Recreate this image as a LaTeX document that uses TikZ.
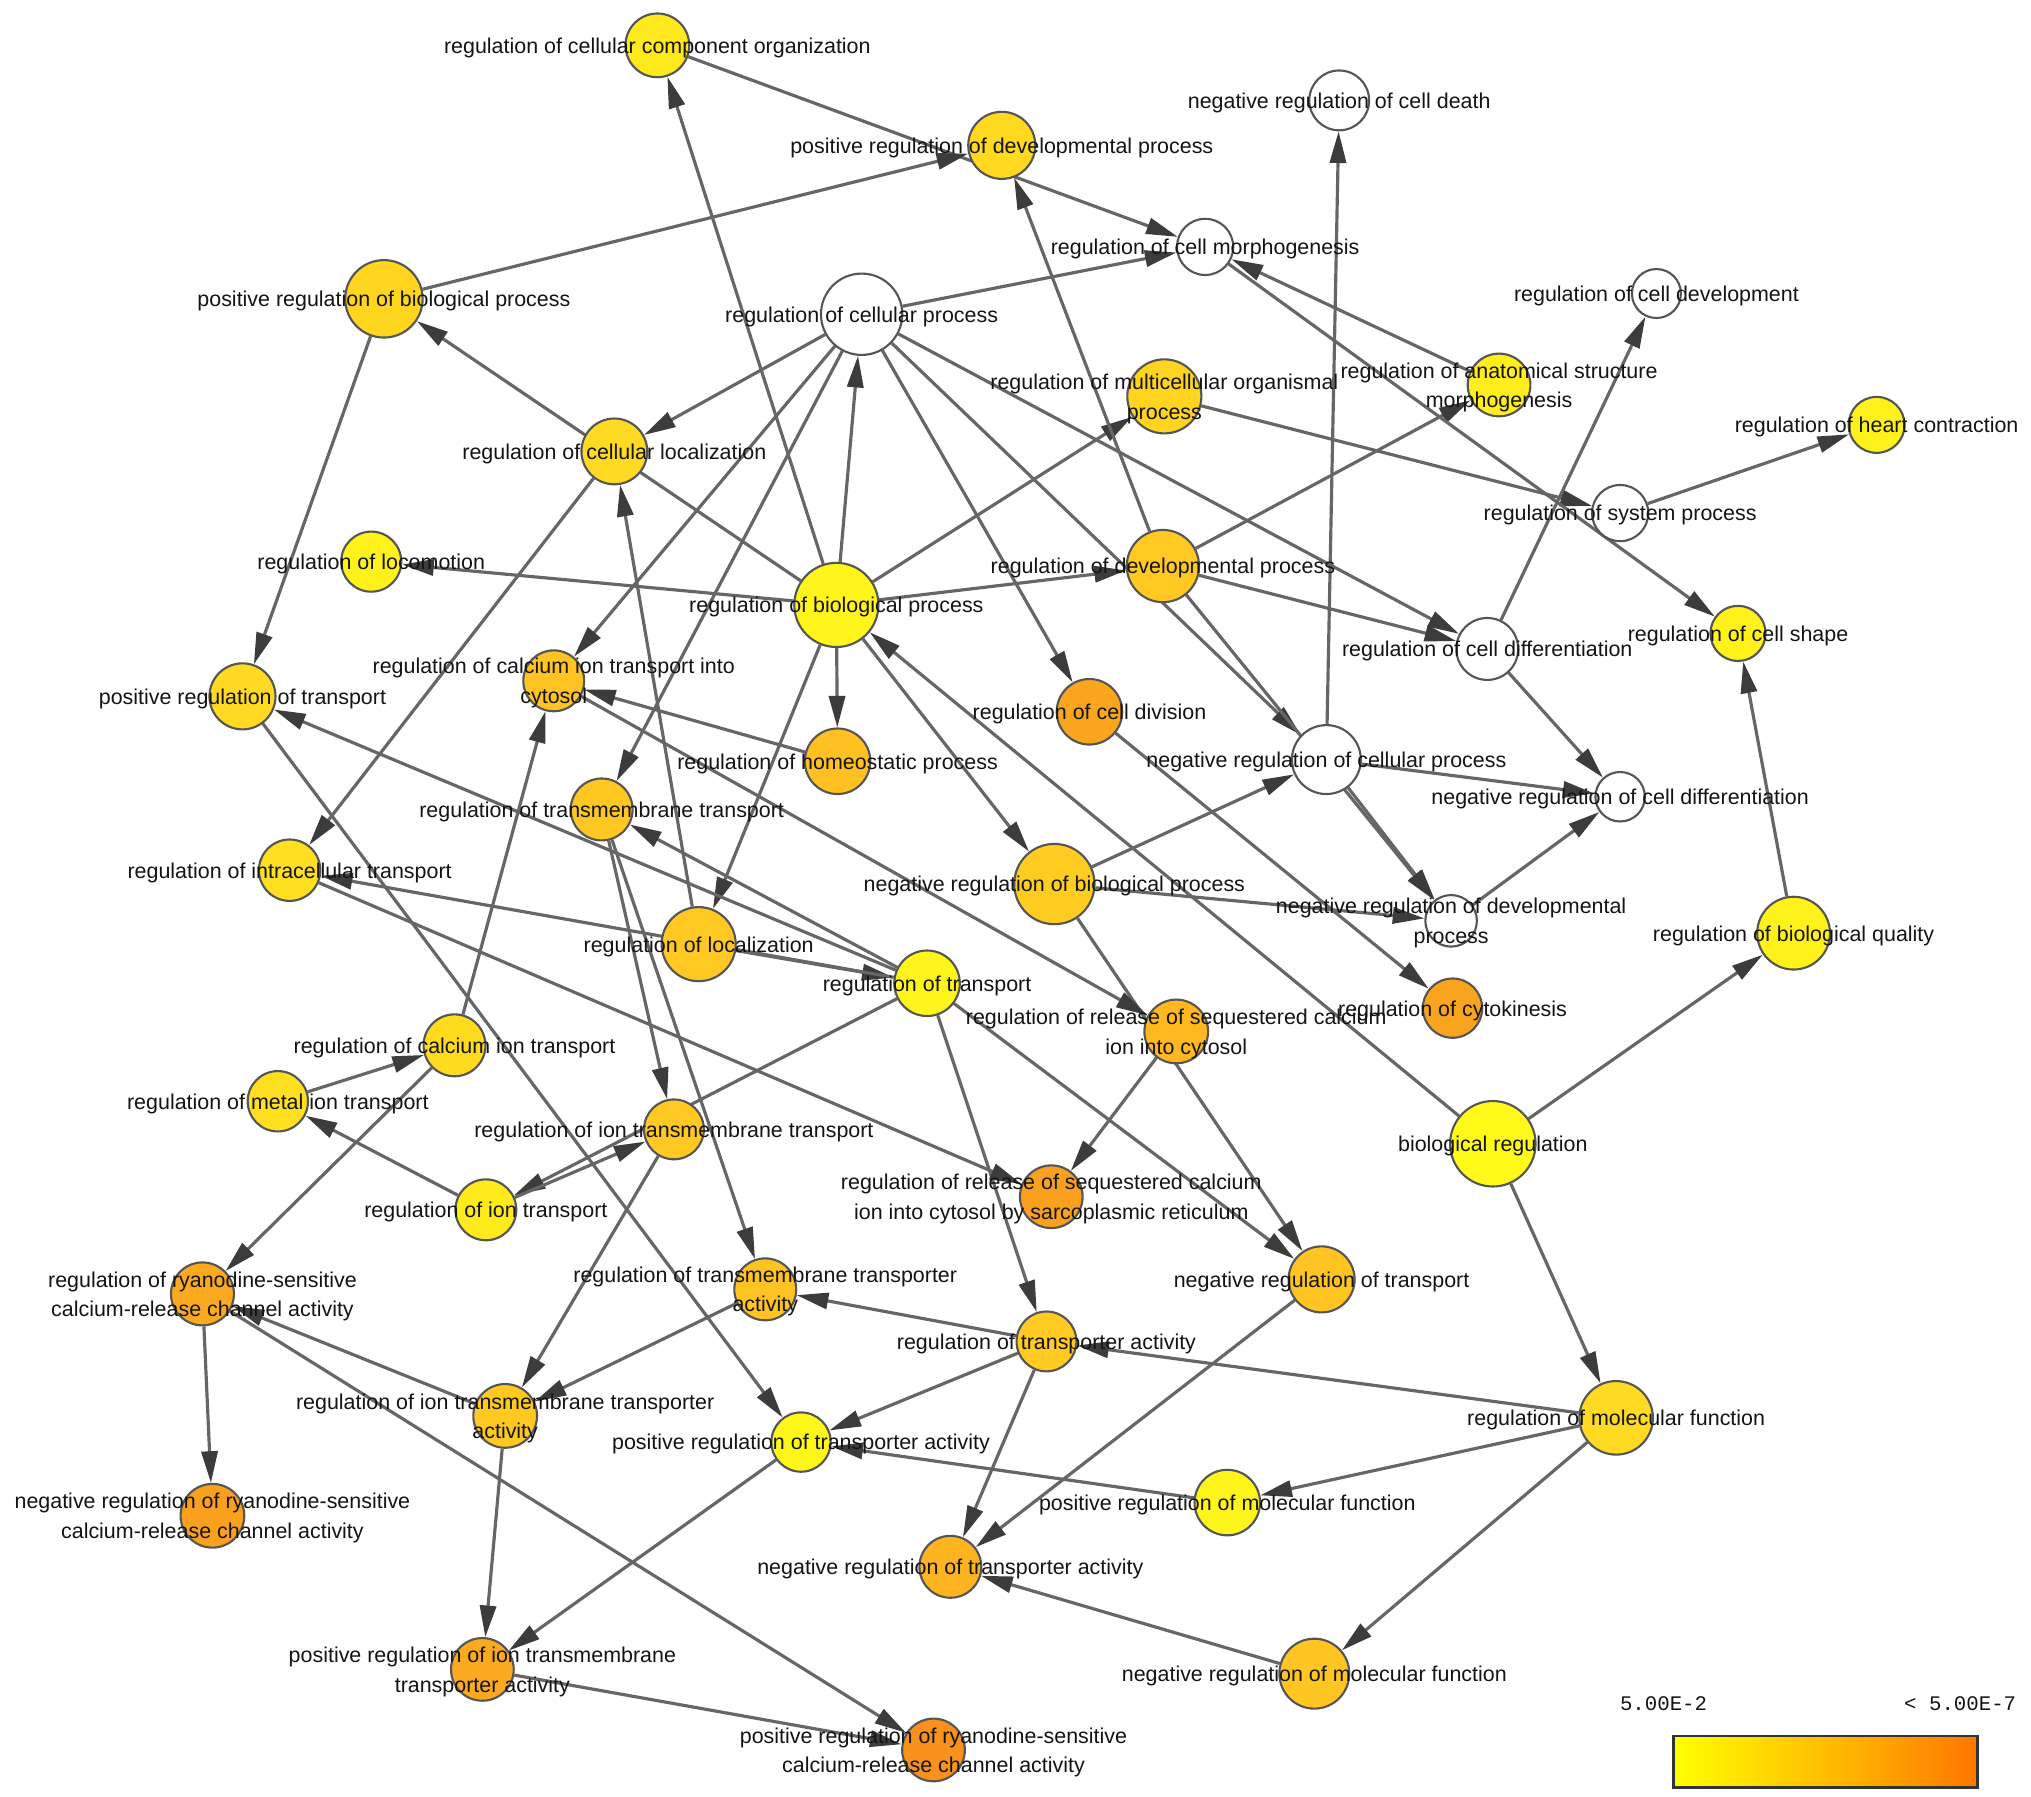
\documentclass[tikz,border=0pt]{standalone}
\usepackage{fontspec}
\setmainfont{Liberation Sans}
\newfontfamily\legendfont{Liberation Mono}
\usetikzlibrary{arrows.meta}
\pgfdeclarelayer{edgelayer}
\pgfdeclarelayer{fore}
\pgfsetlayers{edgelayer,main,fore}
\definecolor{edgec}{HTML}{666666}
\definecolor{tipc}{HTML}{3C3C3C}
\definecolor{borderc}{HTML}{555555}
\definecolor{textc}{HTML}{141414}
\def\uu{0.012953cm}
\tikzset{
  gocirc/.style={circle, draw=borderc, line width=0.6pt, inner sep=0pt},
  golabel/.style={font=\fontsize{6.1}{8.4}\selectfont, text=textc, align=center, inner sep=0pt},
  edge/.style={draw=edgec, line width=0.9pt, -{Triangle[length=9pt,width=4.6pt,color=tipc]}}
}
\newcommand\gn[6]{%
  \definecolor{c#1}{HTML}{#5}%
  \node[gocirc, fill=c#1, minimum size={2*#4*\uu}] (#1) at (#2,#3) {};
  \begin{pgfonlayer}{fore}\node[golabel] at (#2,#3+1.8) {#6};\end{pgfonlayer}
}
\begin{document}
\begin{tikzpicture}[x=0.012953cm, y=-0.012953cm]
\useasboundingbox (0,0) rectangle (1568,1387);
\begin{pgfonlayer}{edgelayer}
\fill[white] (0,0) rectangle (1568,1387);
\end{pgfonlayer}

\gn{cco}{507.5}{35.0}{24.6}{FFE81C}{regulation of cellular component organization}
\gn{ncd}{1033.9}{77.5}{23.1}{FFFFFF}{negative regulation of cell death}
\gn{pdev}{773.4}{112.2}{25.9}{FFD820}{positive regulation of developmental process}
\gn{cmorph}{930.4}{190.6}{21.7}{FFFFFF}{regulation of cell morphogenesis}
\gn{pbio}{296.4}{230.7}{29.9}{FFD520}{positive regulation of biological process}
\gn{cell}{665.2}{242.6}{31.4}{FFFFFF}{regulation of cellular process}
\gn{cdev}{1278.8}{226.6}{18.9}{FFFFFF}{regulation of cell development}
\gn{multi}{898.9}{306.0}{28.6}{FFD420}{regulation of multicellular organismal\\process}
\gn{anat}{1157.3}{297.2}{24.2}{FFEE1C}{regulation of anatomical structure\\morphogenesis}
\gn{heart}{1448.8}{328.0}{21.6}{FFF21A}{regulation of heart contraction}
\gn{cloc}{474.3}{348.5}{25.4}{FFDA22}{regulation of cellular localization}
\gn{sys}{1250.8}{396.1}{21.7}{FFFFFF}{regulation of system process}
\gn{loco}{286.6}{433.6}{23.2}{FFF21A}{regulation of locomotion}
\gn{dev}{897.8}{437.0}{27.9}{FFC823}{regulation of developmental process}
\gn{bio}{645.7}{467.0}{32.5}{FFF51A}{regulation of biological process}
\gn{cdiff}{1148.2}{501.0}{23.9}{FFFFFF}{regulation of cell differentiation}
\gn{shape}{1341.8}{489.0}{21.3}{FFF21A}{regulation of cell shape}
\gn{ptr}{187.2}{537.6}{25.5}{FFD922}{positive regulation of transport}
\gn{cacyt}{427.5}{525.6}{23.5}{FFC422}{regulation of calcium ion transport into\\cytosol}
\gn{div}{841.1}{549.5}{25.3}{F9A61E}{regulation of cell division}
\gn{homeo}{646.6}{587.7}{25.3}{FFC121}{regulation of homeostatic process}
\gn{ncell}{1024.0}{586.4}{26.6}{FFFFFF}{negative regulation of cellular process}
\gn{ncdiff}{1250.8}{615.1}{19.1}{FFFFFF}{negative regulation of cell differentiation}
\gn{tmt}{464.5}{624.9}{23.9}{FFC722}{regulation of transmembrane transport}
\gn{intra}{223.6}{671.8}{23.7}{FFE020}{regulation of intracellular transport}
\gn{nbio}{814.0}{682.5}{31.0}{FFCD22}{negative regulation of biological process}
\gn{ndev}{1120.3}{710.9}{19.9}{FFFFFF}{negative regulation of developmental\\process}
\gn{qual}{1384.7}{720.4}{28.1}{FFF21A}{regulation of biological quality}
\gn{loc}{539.4}{728.9}{28.6}{FFC822}{regulation of localization}
\gn{tr}{715.7}{759.1}{25.3}{FFF51A}{regulation of transport}
\gn{rel}{908.1}{796.3}{24.6}{FFB820}{regulation of release of sequestered calcium\\ion into cytosol}
\gn{cyto}{1121.4}{778.3}{22.9}{F9A41E}{regulation of cytokinesis}
\gn{catr}{350.9}{807.0}{23.9}{FFDB20}{regulation of calcium ion transport}
\gn{metal}{214.5}{850.2}{23.3}{FFE020}{regulation of metal ion transport}
\gn{iontm}{520.3}{871.9}{23.1}{FFC822}{regulation of ion transmembrane transport}
\gn{breg}{1152.5}{883.0}{33.0}{FFFA1A}{biological regulation}
\gn{ion}{375.1}{934.0}{23.5}{FFEA1C}{regulation of ion transport}
\gn{sr}{811.6}{923.9}{24.2}{F9A01E}{regulation of release of sequestered calcium\\ion into cytosol by sarcoplasmic reticulum}
\gn{ntr}{1020.3}{987.7}{25.5}{FFC422}{negative regulation of transport}
\gn{ryr}{156.3}{998.9}{24.3}{FBAA20}{regulation of ryanodine-sensitive\\calcium-release channel activity}
\gn{tmta}{590.8}{995.4}{23.9}{FFC422}{regulation of transmembrane transporter\\activity}
\gn{tra}{807.9}{1035.6}{23.1}{FFCA22}{regulation of transporter activity}
\gn{iontma}{390.0}{1093.1}{24.6}{FFC922}{regulation of ion transmembrane transporter\\activity}
\gn{mf}{1247.7}{1094.6}{28.4}{FFDA22}{regulation of molecular function}
\gn{ptra}{618.4}{1113.3}{22.9}{FFF71A}{positive regulation of transporter activity}
\gn{pmf}{947.5}{1160.0}{25.3}{FFF51A}{positive regulation of molecular function}
\gn{nryr}{164.0}{1170.2}{24.6}{F9A01E}{negative regulation of ryanodine-sensitive\\calcium-release channel activity}
\gn{ntra}{733.7}{1209.6}{23.9}{FDB420}{negative regulation of transporter activity}
\gn{piontma}{372.4}{1288.8}{24.2}{FBAA20}{positive regulation of ion transmembrane\\transporter activity}
\gn{nmf}{1014.7}{1292.1}{27.0}{FFC522}{negative regulation of molecular function}
\gn{pryr}{720.7}{1351.0}{24.2}{F8921C}{positive regulation of ryanodine-sensitive\\calcium-release channel activity}

\begin{pgfonlayer}{edgelayer}
\foreach \a/\b in {breg/bio, breg/qual, breg/mf,
  bio/cell, bio/cco, bio/loco, bio/dev, bio/multi, bio/homeo, bio/nbio, bio/pbio, bio/loc,
  cell/cloc, cell/cmorph, cell/cacyt, cell/tmt, cell/div, cell/ncell, cell/cdiff,
  cco/cmorph, pbio/pdev, pbio/ptr,
  dev/pdev, dev/anat, dev/cdiff, dev/ndev,
  multi/sys, sys/heart, anat/cmorph, cmorph/shape, qual/shape,
  cdiff/cdev, cdiff/ncdiff, ncell/ncd, ncell/ncdiff, ncell/ndev,
  nbio/ncell, nbio/ndev, nbio/ntr, ndev/ncdiff, div/cyto,
  cloc/intra, loc/cloc, loc/tr,
  tr/ptr, tr/intra, tr/tmt, tr/ion, tr/tra, tr/ntr,
  homeo/cacyt, cacyt/rel, catr/cacyt, metal/catr, ion/metal, ion/iontm,
  tmt/iontm, tmt/tmta, iontm/iontma,
  tra/tmta, tmta/iontma, tra/ptra, tra/ntra,
  mf/tra, mf/pmf, mf/nmf, pmf/ptra, nmf/ntra, ntr/ntra,
  ptra/piontma, iontma/piontma, piontma/pryr, ryr/pryr, ryr/nryr, iontma/ryr, catr/ryr,
  rel/sr, intra/sr, ptr/ptra}
  \draw[edge] (\a) -- (\b);
\end{pgfonlayer}

% legend
\node[font=\legendfont\fontsize{5.9}{7}\selectfont, text=textc, inner sep=0pt] (lgA) at (1284.3,1315.2) {5.00E-2};
\node[font=\legendfont\fontsize{5.9}{7}\selectfont, text=textc, inner sep=0pt] (lgB) at (1513.3,1315.2) {< 5.00E-7};
\shade[left color={rgb,255:red,255;green,255;blue,0}, right color={rgb,255:red,255;green,118;blue,0}, middle color={rgb,255:red,255;green,190;blue,0}] (1291.9,1340.2) rectangle (1526.7,1379.8);
\draw[draw=black!80, line width=0.8pt] (1291.9,1340.2) rectangle (1526.7,1379.8);
\end{tikzpicture}
\end{document}
